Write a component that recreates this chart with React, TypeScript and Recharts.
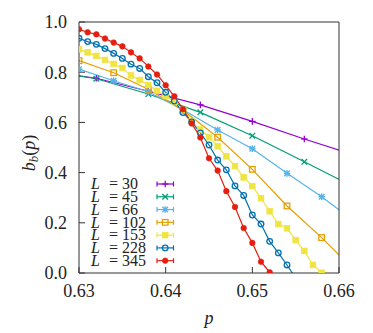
import React from 'react';
import { LineChart, Line, XAxis, YAxis } from 'recharts';

const xTicks = [0.63, 0.64, 0.65, 0.66];
const yTicks = [0, 0.2, 0.4, 0.6, 0.8, 1.0];

const pL30 = [0.626, 0.632, 0.638, 0.644, 0.65, 0.656, 0.662];
const bL30 = [0.805, 0.776, 0.724, 0.670, 0.604, 0.534, 0.468];

const pL45 = [0.626, 0.632, 0.638, 0.644, 0.65, 0.656, 0.662];
const bL45 = [0.807, 0.774, 0.713, 0.640, 0.547, 0.443, 0.338];

const pL66 = [0.63, 0.634, 0.638, 0.642, 0.646, 0.65, 0.654, 0.658, 0.662];
const bL66 = [0.812, 0.766, 0.722, 0.650, 0.570, 0.495, 0.397, 0.304, 0.200];

const pL102 = [0.63, 0.634, 0.638, 0.642, 0.646, 0.65, 0.654, 0.658, 0.662];
const bL102 = [0.846, 0.798, 0.732, 0.648, 0.541, 0.413, 0.267, 0.141, 0.003];

const pL153 = [0.630, 0.631, 0.632, 0.633, 0.634, 0.635, 0.636, 0.637, 0.638, 0.639,
  0.640, 0.641, 0.642, 0.643, 0.644, 0.645, 0.646, 0.647, 0.648, 0.649,
  0.650, 0.651, 0.652, 0.653, 0.654, 0.655, 0.656, 0.657, 0.658];
const bL153 = [0.891, 0.879, 0.865, 0.849, 0.833, 0.817, 0.787, 0.769, 0.749, 0.726,
  0.705, 0.681, 0.649, 0.605, 0.572, 0.541, 0.505, 0.465, 0.426, 0.381,
  0.346, 0.298, 0.246, 0.195, 0.178, 0.131, 0.088, 0.032, 0.001];

const pL228 = [0.630, 0.631, 0.632, 0.633, 0.634, 0.635, 0.636, 0.637, 0.638, 0.639,
  0.640, 0.641, 0.642, 0.643, 0.644, 0.645, 0.646, 0.647, 0.648, 0.649,
  0.650, 0.651, 0.652, 0.653, 0.654, 0.655];
const bL228 = [0.935, 0.922, 0.911, 0.894, 0.875, 0.855, 0.832, 0.815, 0.782, 0.758,
  0.720, 0.685, 0.639, 0.602, 0.558, 0.510, 0.450, 0.411, 0.347, 0.309,
  0.231, 0.195, 0.126, 0.080, 0.032, -0.02];

const pL345 = [0.630, 0.631, 0.632, 0.633, 0.634, 0.635, 0.636, 0.637, 0.638, 0.639,
  0.640, 0.641, 0.642, 0.643, 0.644, 0.645, 0.646, 0.647, 0.648, 0.649,
  0.650, 0.651, 0.652];
const bL345 = [0.971, 0.959, 0.951, 0.934, 0.918, 0.903, 0.879, 0.855, 0.823, 0.791,
  0.748, 0.704, 0.652, 0.596, 0.540, 0.457, 0.408, 0.326, 0.263, 0.179,
  0.120, 0.045, 0.003];

const seriesNames = ['30', '45', '66', '102', '153', '228', '345'];
const seriesColors = ['#9400d3', '#009e73', '#56b4e9', '#e69f00', '#f0e442', '#0072b2', '#e51e10'];
const seriesShapes = ['plus', 'cross', 'star', 'osquare', 'fsquare', 'ocircle', 'fcircle'];
const seriesP = [pL30, pL45, pL66, pL102, pL153, pL228, pL345];
const seriesB = [bL30, bL45, bL66, bL102, bL153, bL228, bL345];

const series = seriesNames.map((name, i) => ({
  name,
  color: seriesColors[i],
  shape: seriesShapes[i],
  data: seriesP[i].map((p, j) => ({ p, b: seriesB[i][j] })),
}));

function Marker({ shape, color, cx, cy }: { shape: string; color: string; cx: number; cy: number }) {
  const s = 2.8;
  switch (shape) {
    case 'plus':
      return (
        <g stroke={color} strokeWidth={1.3}>
          <line x1={cx - s - 0.5} y1={cy} x2={cx + s + 0.5} y2={cy} />
          <line x1={cx} y1={cy - s - 0.5} x2={cx} y2={cy + s + 0.5} />
        </g>
      );
    case 'cross':
      return (
        <g stroke={color} strokeWidth={1.3}>
          <line x1={cx - s} y1={cy - s} x2={cx + s} y2={cy + s} />
          <line x1={cx - s} y1={cy + s} x2={cx + s} y2={cy - s} />
        </g>
      );
    case 'star':
      return (
        <g stroke={color} strokeWidth={1.4}>
          <line x1={cx - s} y1={cy - s} x2={cx + s} y2={cy + s} />
          <line x1={cx - s} y1={cy + s} x2={cx + s} y2={cy - s} />
          <line x1={cx - s - 0.5} y1={cy} x2={cx + s + 0.5} y2={cy} />
          <line x1={cx} y1={cy - s - 0.5} x2={cx} y2={cy + s + 0.5} />
        </g>
      );
    case 'osquare':
      return <rect x={cx - s} y={cy - s} width={2 * s} height={2 * s} fill="none" stroke={color} strokeWidth={1.3} />;
    case 'fsquare':
      return <rect x={cx - s} y={cy - s} width={2 * s} height={2 * s} fill={color} stroke={color} strokeWidth={0.8} />;
    case 'ocircle':
      return <circle cx={cx} cy={cy} r={s} fill="none" stroke={color} strokeWidth={1.3} />;
    default:
      return <circle cx={cx} cy={cy} r={s} fill={color} stroke={color} strokeWidth={0.6} />;
  }
}

const FONT = 'Liberation Serif';
const AX = '#333';

function YLabel() {
  return (
    <text transform="translate(27,145) rotate(-90)" textAnchor="middle" fontFamily={FONT} fontSize={18} fill="#222">
      <tspan fontStyle="italic">b</tspan>
      <tspan fontStyle="italic" fontSize={13} dy={3}>b</tspan>
      <tspan dy={-3}>(</tspan>
      <tspan fontStyle="italic">p</tspan>
      <tspan>)</tspan>
    </text>
  );
}

function XLabel() {
  return (
    <text x={201} y={316} textAnchor="middle" fontFamily={FONT} fontSize={18} fontStyle="italic" fill="#222">
      p
    </text>
  );
}

function LegendBox() {
  const rowY0 = 176;
  const step = 12.78;
  return (
    <svg width={365} height={325} style={{ position: 'absolute', left: 0, top: 0, pointerEvents: 'none' }}>
      {series.map((s, i) => {
        const y = rowY0 + i * step;
        return (
          <g key={s.name}>
            <text x={83} y={y + 5.3} fontFamily={FONT} fontSize={16} fill="#222">
              <tspan fontStyle="italic">L</tspan>
              <tspan x={101}>=</tspan>
              <tspan x={114}>{s.name}</tspan>
            </text>
            <g stroke={s.color} strokeWidth={1.2}>
              <line x1={149} y1={y} x2={165.5} y2={y} />
              <line x1={149} y1={y - 2.5} x2={149} y2={y + 2.5} />
              <line x1={165.5} y1={y - 2.5} x2={165.5} y2={y + 2.5} />
            </g>
            <Marker shape={s.shape} color={s.color} cx={157.2} cy={y} />
          </g>
        );
      })}
    </svg>
  );
}

export default function App() {
  return (
    <div style={{ position: 'relative', width: 365, height: 325 }}>
      <LineChart width={365} height={325} margin={{ top: 13, right: 33, bottom: 20, left: 11 }}>
        <XAxis
          xAxisId="b"
          dataKey="p"
          type="number"
          domain={[0.63, 0.66]}
          allowDataOverflow
          ticks={xTicks}
          tickFormatter={(v: number) => v.toFixed(2)}
          orientation="bottom"
          height={40}
          tickSize={-6}
          tickMargin={17}
          stroke={AX}
          tick={{ fontFamily: FONT, fontSize: 18, fill: '#222' }}
        />
        <XAxis
          xAxisId="t"
          dataKey="p"
          type="number"
          domain={[0.63, 0.66]}
          allowDataOverflow
          ticks={xTicks}
          orientation="top"
          height={1}
          tickSize={-6}
          tick={false}
          stroke={AX}
        />
        <YAxis
          yAxisId="l"
          type="number"
          domain={[0, 1]}
          allowDataOverflow
          ticks={yTicks}
          tickFormatter={(v: number) => v.toFixed(1)}
          width={60}
          tickSize={-6}
          tickMargin={18}
          stroke={AX}
          tick={{ fontFamily: FONT, fontSize: 18, fill: '#222' }}
        />
        <YAxis
          yAxisId="r"
          type="number"
          orientation="right"
          domain={[0, 1]}
          allowDataOverflow
          ticks={yTicks}
          width={1}
          tickSize={-6}
          tick={false}
          stroke={AX}
        />
        {series.map((s) => (
          <Line
            key={s.name}
            xAxisId="b"
            yAxisId="l"
            data={s.data}
            dataKey="b"
            name={s.name}
            stroke={s.color}
            strokeWidth={1.2}
            isAnimationActive={false}
            dot={(props: any) => (
              <Marker key={`${s.name}-${props.index}`} shape={s.shape} color={s.color} cx={props.cx} cy={props.cy} />
            )}
            activeDot={false}
          />
        ))}
      </LineChart>
      <svg width={365} height={325} style={{ position: 'absolute', left: 0, top: 0, pointerEvents: 'none' }}>
        <YLabel />
        <XLabel />
      </svg>
      <LegendBox />
    </div>
  );
}
